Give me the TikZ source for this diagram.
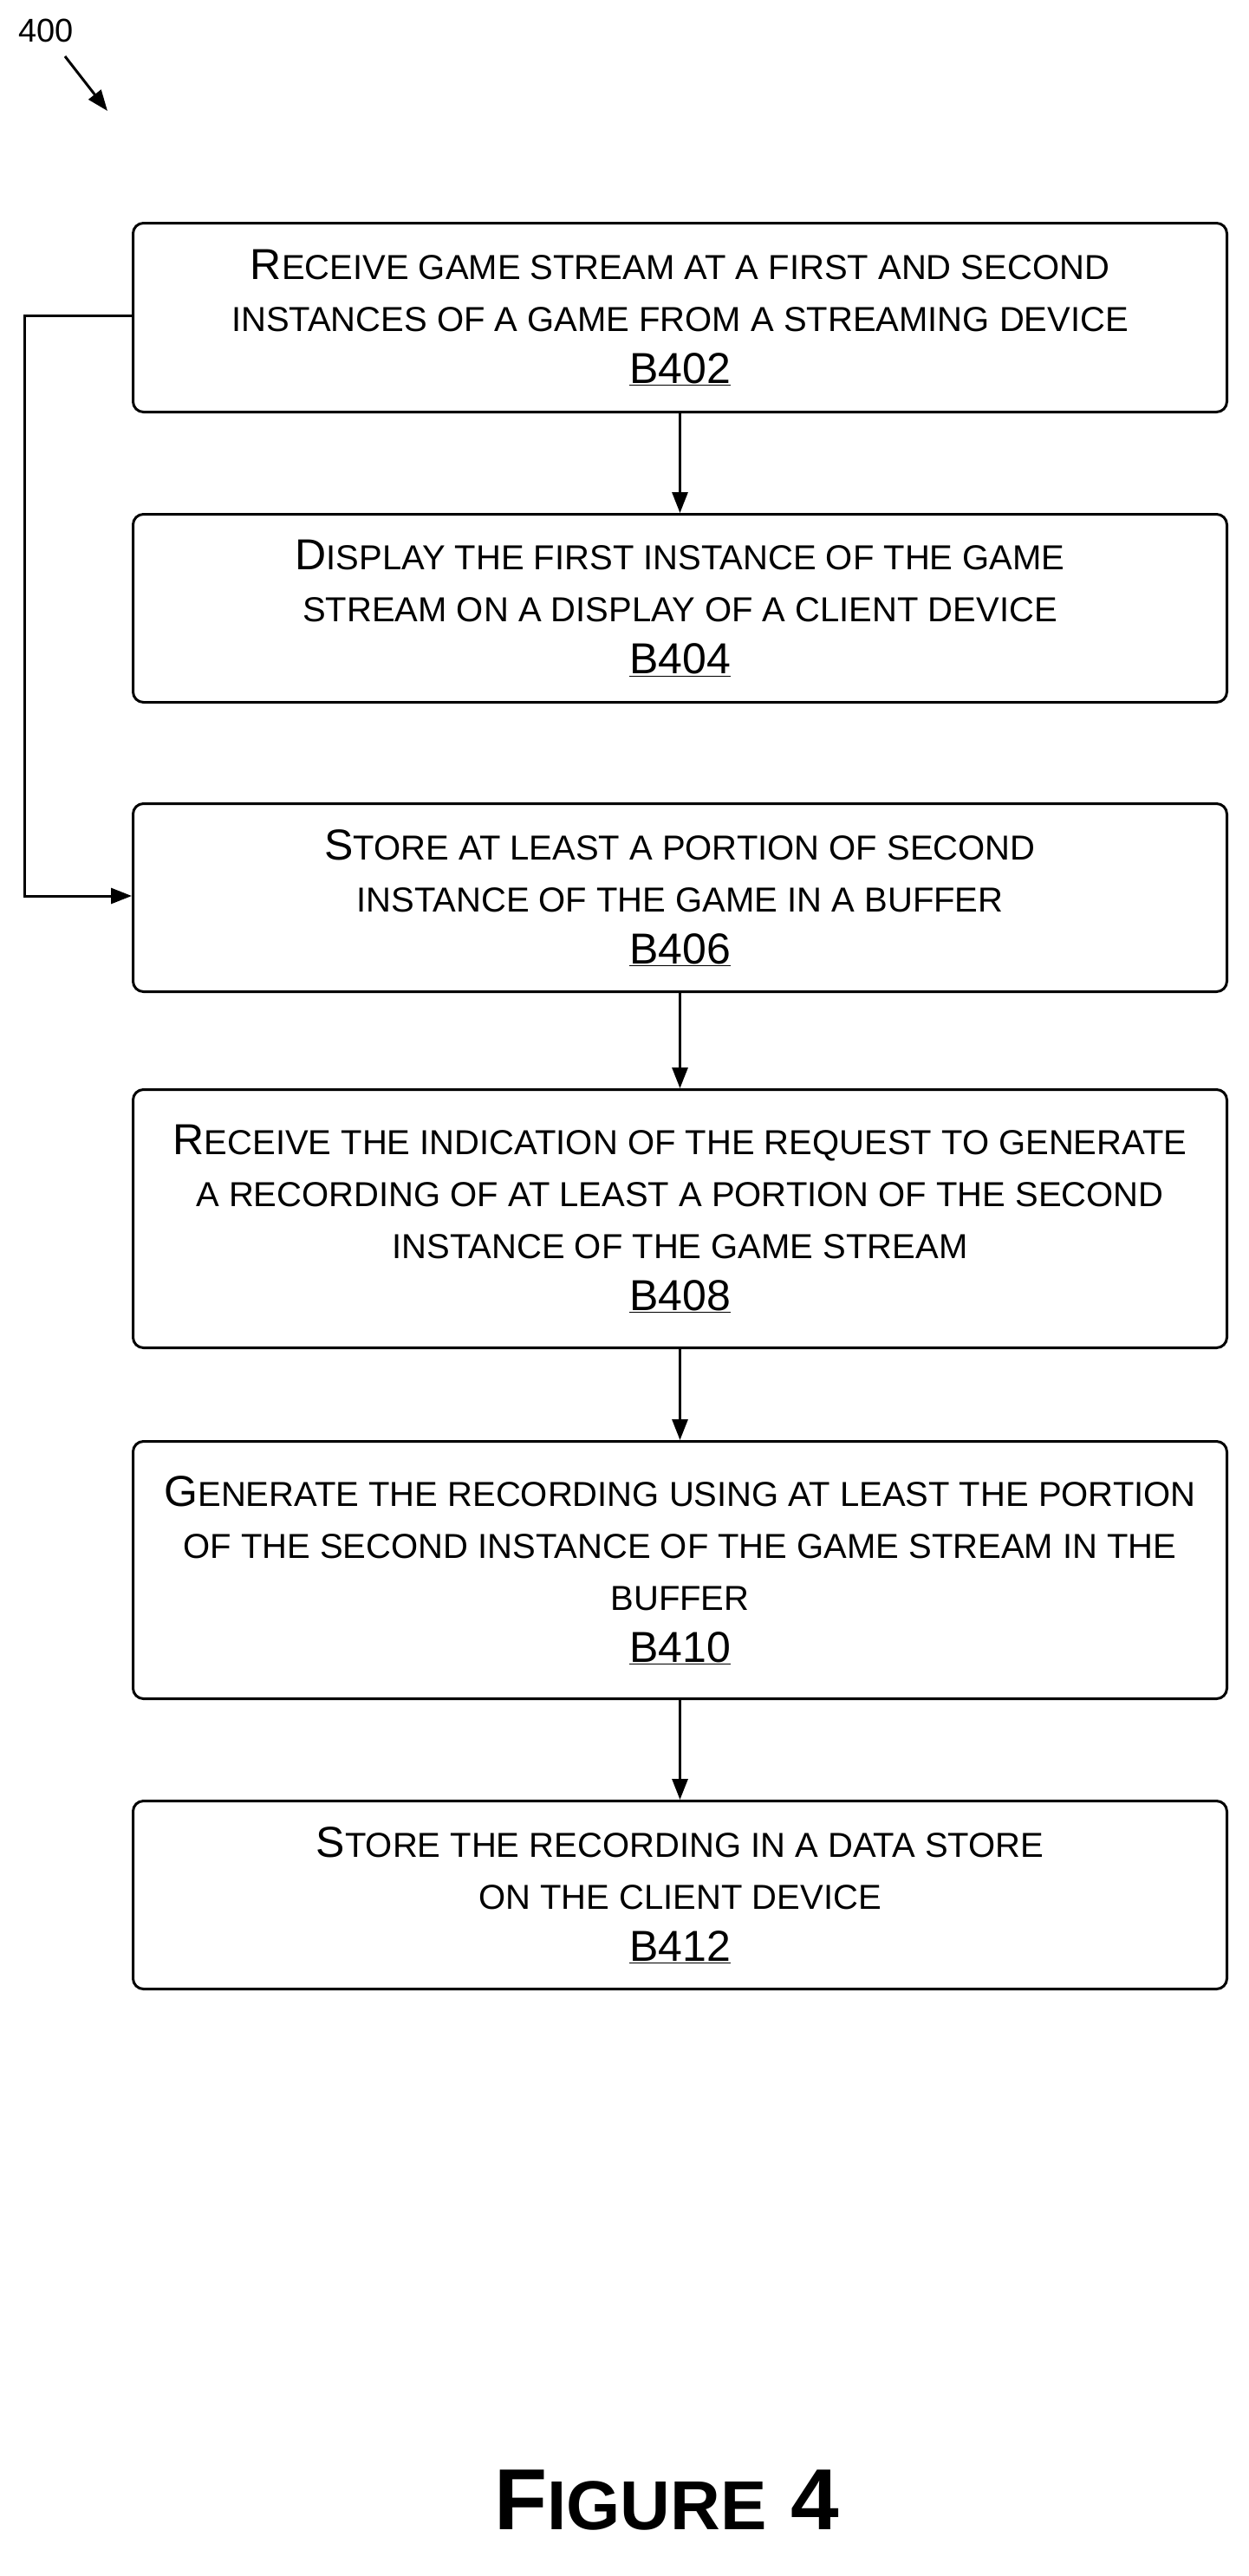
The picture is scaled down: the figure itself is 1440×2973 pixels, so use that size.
\documentclass[tikz,border=0pt]{standalone}
\usepackage{fontspec}
\setmainfont{Liberation Sans}
\usetikzlibrary{arrows.meta}
\newcommand{\Bg}[1]{{\fontsize{50}{60}\selectfont #1}}
\begin{document}
\begin{tikzpicture}[x=1pt,y=-1pt,
  box/.style={draw,line width=3pt,rounded corners=12pt,minimum width=1262pt,align=center,font=\fontsize{40}{60}\selectfont,anchor=north west,inner sep=0pt},
  arr/.style={line width=3pt,-{Triangle[length=24pt,width=18pt]}}]
\useasboundingbox (0,0) rectangle (1440,2973);
\node[anchor=south west,font=\fontsize{38}{40}\selectfont] (lbl) at (18,52) {400};
\coordinate (a1) at (75,65);
\coordinate (a2) at (124,128);
\draw[arr] (a1) -- (a2);
\node[box,minimum height=218pt] (b402) at (152,256) {\Bg{R}ECEIVE GAME STREAM AT A FIRST AND SECOND\\INSTANCES OF A GAME FROM A STREAMING DEVICE\\\Bg{\underline{B402}}};
\node[box,minimum height=217pt] (b404) at (152,592) {\Bg{D}ISPLAY THE FIRST INSTANCE OF THE GAME\\STREAM ON A DISPLAY OF A CLIENT DEVICE\\\Bg{\underline{B404}}};
\node[box,minimum height=217pt] (b406) at (152,926) {\Bg{S}TORE AT LEAST A PORTION OF SECOND\\INSTANCE OF THE GAME IN A BUFFER\\\Bg{\underline{B406}}};
\node[box,minimum height=298pt] (b408) at (152,1256) {\Bg{R}ECEIVE THE INDICATION OF THE REQUEST TO GENERATE\\A RECORDING OF AT LEAST A PORTION OF THE SECOND\\INSTANCE OF THE GAME STREAM\\\Bg{\underline{B408}}};
\node[box,minimum height=297pt] (b410) at (152,1662) {\Bg{G}ENERATE THE RECORDING USING AT LEAST THE PORTION\\OF THE SECOND INSTANCE OF THE GAME STREAM IN THE\\BUFFER\\\Bg{\underline{B410}}};
\node[box,minimum height=217pt] (b412) at (152,2077) {\Bg{S}TORE THE RECORDING IN A DATA STORE\\ON THE CLIENT DEVICE\\\Bg{\underline{B412}}};
\draw[arr] (b402.south) -- (b404.north);
\draw[arr] (b406.south) -- (b408.north);
\draw[arr] (b408.south) -- (b410.north);
\draw[arr] (b410.south) -- (b412.north);
\coordinate (l1) at (28,364);
\coordinate (l2) at (28,1034);
\draw[arr] (b402.west |- l1) -- (l1) -- (l2) -- (b406.west |- l2);
\node[font=\bfseries\fontsize{100}{110}\selectfont] (fig) at (769,2885) {F{\fontsize{80}{110}\selectfont IGURE} 4};
\end{tikzpicture}
\end{document}
